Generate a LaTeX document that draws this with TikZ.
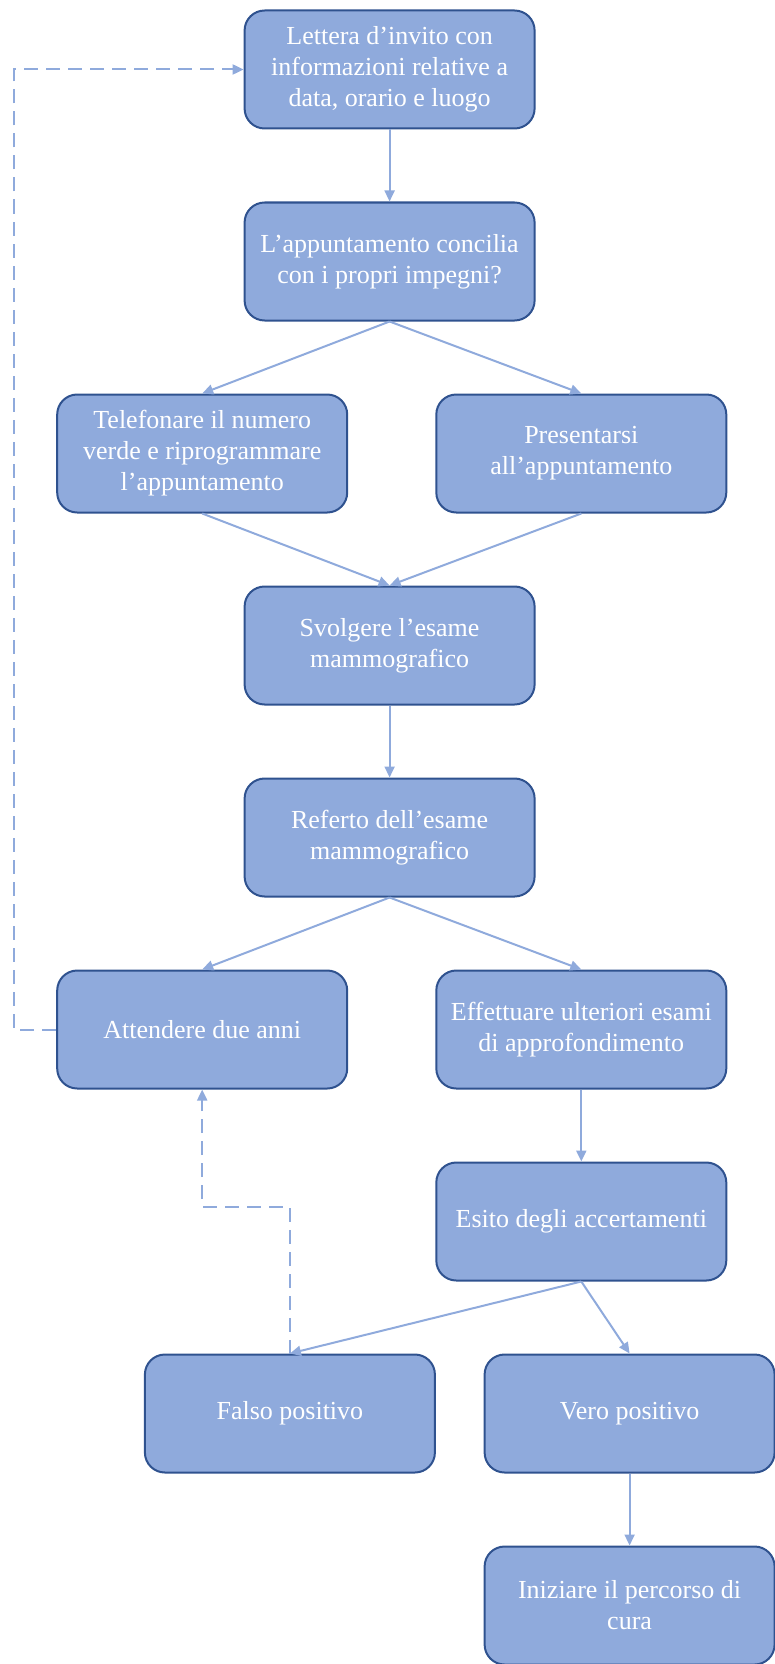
\documentclass[tikz,border=0pt]{standalone}
\usepackage{fontspec}
\setmainfont{Liberation Serif}
\definecolor{boxfill}{RGB}{143,170,220}
\definecolor{boxline}{RGB}{47,82,143}
\definecolor{linkblue}{RGB}{143,170,220}
\usetikzlibrary{positioning,arrows.meta}

\begin{document}
\begin{tikzpicture}[x=1pt,y=1pt,
    stepbox/.style={draw=boxline,fill=boxfill,rounded corners=20pt,line width=2pt,
        minimum width=290pt,minimum height=118pt,align=center,text=white,
        font=\fontsize{26}{31}\selectfont},
    link/.style={draw=linkblue,line width=2pt,-{Triangle[length=11pt,width=10pt]}},
    back/.style={link,dash pattern=on 14pt off 8pt},
    node distance=72pt
    ]
    \useasboundingbox (0,0) rectangle (774,-1664);

    % the main steps
    \node[stepbox] (let) at (389.6,-69.5) {Lettera d’invito con\\informazioni relative a\\data, orario e luogo};
    \node[stepbox,below=of let] (app) {L’appuntamento concilia\\con i propri impegni?};
    \node[stepbox,below=of app,xshift=-187.4pt] (tel) {Telefonare il numero\\verde e riprogrammare\\l’appuntamento};
    \node[stepbox,below=of app,xshift=191.7pt] (pre) {Presentarsi\\all’appuntamento};
    \node[stepbox,below=of tel,xshift=187.4pt] (svo) {Svolgere l’esame\\mammografico};
    \node[stepbox,below=of svo] (ref) {Referto dell’esame\\mammografico};

    % the two outcomes
    \node[stepbox,below=of ref,xshift=-187.4pt] (att) {Attendere due anni};
    \node[stepbox,below=of ref,xshift=191.7pt] (eff) {Effettuare ulteriori esami\\di approfondimento};
    \node[stepbox,below=of eff] (esi) {Esito degli accertamenti};
    \node[stepbox,below=of esi,xshift=-291.4pt] (fal) {Falso positivo};
    \node[stepbox,below=of esi,xshift=48.3pt] (ver) {Vero positivo};
    \node[stepbox,below=of ver] (ini) {Iniziare il percorso di\\cura};

    % the bends of the dashed lines
    \coordinate[left=42pt of att.west] (lp);
    \coordinate[below=117pt of att.south] (bend);

    % the connectors
    \draw[link] (let) -- (app);
    \draw[link] (app.south) -- (tel.north);
    \draw[link] (app.south) -- (pre.north);
    \draw[link] (tel.south) -- (svo.north);
    \draw[link] (pre.south) -- (svo.north);
    \draw[link] (svo) -- (ref);
    \draw[link] (ref.south) -- (att.north);
    \draw[link] (ref.south) -- (eff.north);
    \draw[link] (eff) -- (esi);
    \draw[link] (esi.south) -- (fal.north);
    \draw[link] (esi.south) -- (ver.north);
    \draw[link] (ver) -- (ini);
    \draw[back] (att.west) -- (lp) |- (let.west);
    \draw[back] (fal.north) |- (bend) -- (att.south);
\end{tikzpicture}
\end{document}
